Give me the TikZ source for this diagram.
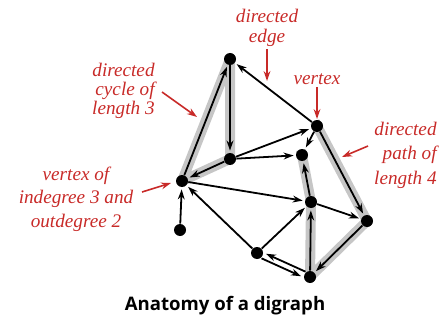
\documentclass[tikz,border=0pt]{standalone}
\usepackage{fontspec}
\setmainfont{Liberation Serif}
\newfontfamily\titlefont{Open Sans}
\usepackage{xcolor}
\usetikzlibrary{positioning,arrows.meta,backgrounds}
\definecolor{notered}{RGB}{200,42,40}
\definecolor{bandgray}{RGB}{198,198,198}

\begin{document}
\begin{tikzpicture}[x=0.5pt, y=-0.5pt, >={Stealth[length=5pt,width=3.4pt]},
  vert/.style={circle, fill=black, inner sep=0pt, minimum size=6pt},
  edge/.style={->, line width=0.9pt, shorten >=1pt},
  band/.style={line width=5pt, bandgray, line cap=rect, line join=round},
  note/.style={text=notered, inner sep=1pt, font=\itshape\fontsize{9.6}{#1}\selectfont},
  note/.default=10pt,
  pointer/.style={->, notered, line width=0.8pt}]
  \useasboundingbox (0,0) rectangle (448,320);

  % vertices
  \node[vert] (a) at (230,59) {};
  \node[vert] (b) at (230,159) {};
  \node[vert] (c) at (182,181) {};
  \node[vert] (d) at (180,230) {};
  \node[vert] (e) at (317,126) {};
  \node[vert] (f) at (302,155) {};
  \node[vert] (g) at (311,202) {};
  \node[vert] (h) at (367,221) {};
  \node[vert] (i) at (257,253) {};
  \node[vert] (j) at (310,277) {};

  % highlighted cycle and path
  \begin{scope}[on background layer]
    \draw[band] (c.center) -- (a.center) -- (b.center) -- cycle;
    \draw[band] (e.center) -- (h.center) -- (j.center) -- (g.center) -- (f.center);
  \end{scope}

  % edges
  \foreach \s/\t in {c/a, a/b, b/c, d/c, e/a, b/e, b/f, e/f, c/g, i/c, i/g, j/g, g/f, g/h, e/h, h/j}
    \draw[edge] (\s) -- (\t);
  \draw[edge, transform canvas={shift={(-1.3,2.7)}}] (i) -- (j);
  \draw[edge, transform canvas={shift={(1.3,-2.7)}}] (j) -- (i);

  % labels
  \node[note, align=center] (lbledge) at (267,28) {directed\\edge};
  \node[note] (lblvertex) at (317,79) {vertex};
  \node[note=9.5pt, align=right, anchor=east] (lblcycle) at (157,91) {directed\\cycle of\\length 3};
  \node[note=12.25pt, align=right, anchor=east] (lblpath) at (439,155) {directed\\path of\\length 4};
  \node[note=11.75pt, align=center] (lbldeg) at (76,199) {vertex of\\indegree 3 and\\outdegree 2};

  \coordinate (edgetip) at (267,81);
  \coordinate (vertextip) at (317,119);
  \coordinate (cycletail) at (162,92);
  \coordinate (cycletip) at (197,117);
  \coordinate (pathtail) at (368,146);
  \coordinate (pathtip) at (342,157);
  \coordinate (degtail) at (142,192);
  \coordinate (degtip) at (171,183);
  \draw[pointer] (lbledge.south) -- (edgetip);
  \draw[pointer] (lblvertex.south) -- (vertextip);
  \draw[pointer] (cycletail) -- (cycletip);
  \draw[pointer] (pathtail) -- (pathtip);
  \draw[pointer] (degtail) -- (degtip);

  \node[font=\titlefont\bfseries\fontsize{9.3}{11}\selectfont] (title) at (225,306) {Anatomy of a digraph};
\end{tikzpicture}
\end{document}
